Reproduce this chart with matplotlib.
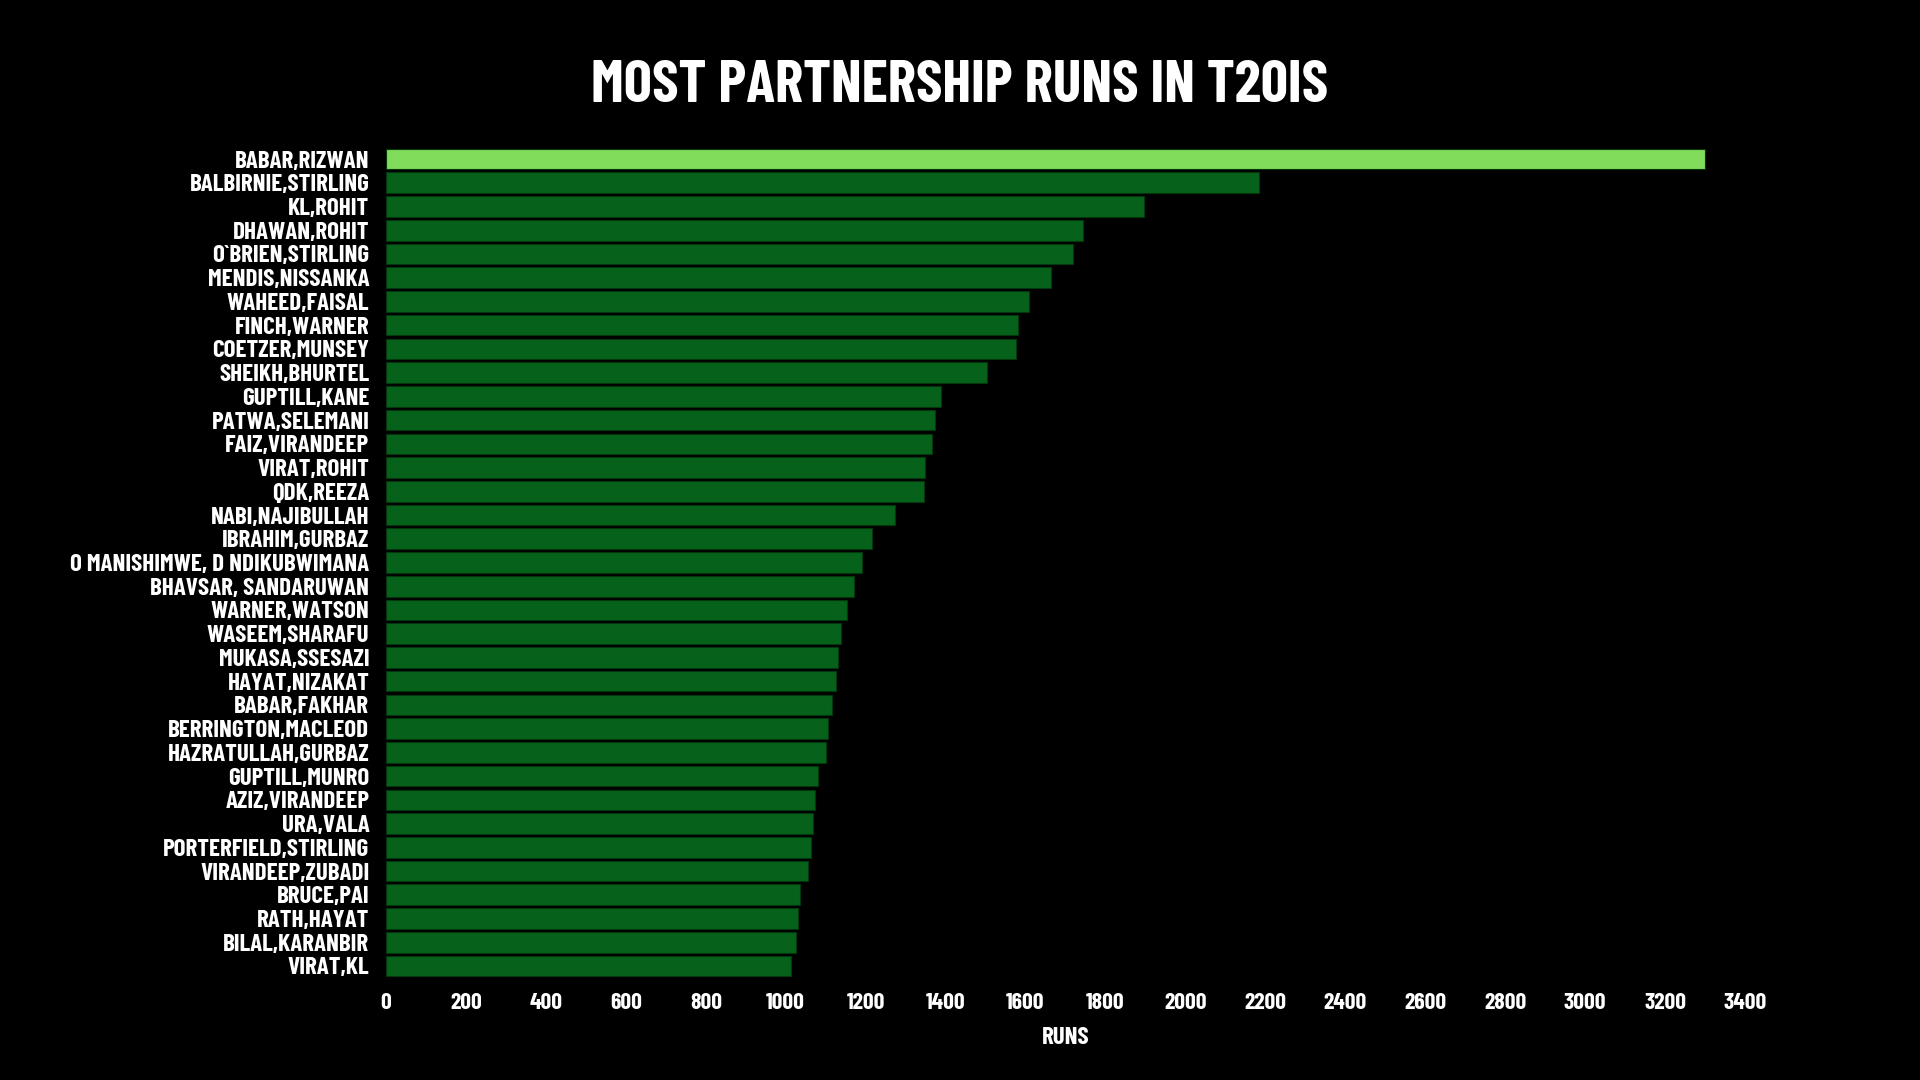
import matplotlib
matplotlib.use("Agg")
import matplotlib.pyplot as plt

pairs = ["BABAR,RIZWAN", "BALBIRNIE,STIRLING", "KL,ROHIT", "DHAWAN,ROHIT", "O`BRIEN,STIRLING",
         "MENDIS,NISSANKA", "WAHEED,FAISAL", "FINCH,WARNER", "COETZER,MUNSEY", "SHEIKH,BHURTEL",
         "GUPTILL,KANE", "PATWA,SELEMANI", "FAIZ,VIRANDEEP", "VIRAT,ROHIT", "QDK,REEZA",
         "NABI,NAJIBULLAH", "IBRAHIM,GURBAZ", "O MANISHIMWE, D NDIKUBWIMANA", "BHAVSAR, SANDARUWAN",
         "WARNER,WATSON", "WASEEM,SHARAFU", "MUKASA,SSESAZI", "HAYAT,NIZAKAT", "BABAR,FAKHAR",
         "BERRINGTON,MACLEOD", "HAZRATULLAH,GURBAZ", "GUPTILL,MUNRO", "AZIZ,VIRANDEEP", "URA,VALA",
         "PORTERFIELD,STIRLING", "VIRANDEEP,ZUBADI", "BRUCE,PAI", "RATH,HAYAT", "BILAL,KARANBIR",
         "VIRAT,KL"]
runs = [3299, 2183, 1896, 1743, 1719, 1663, 1609, 1582, 1575, 1503, 1388, 1374, 1365, 1348, 1347,
        1274, 1217, 1190, 1172, 1153, 1138, 1131, 1125, 1115, 1106, 1101, 1082, 1074, 1069, 1064,
        1056, 1035, 1030, 1026, 1014]
xticks = list(range(0, 3401, 200))

plt.rcParams["font.family"] = ["Barlow Condensed", "Bebas Neue", "DejaVu Sans"]
W = "bold"

fig = plt.figure(figsize=(19.2, 10.8), dpi=100, facecolor="black")
ax = fig.add_axes([386/1920, 1-980.2/1080, (1745-386)/1920, (980.2-144.8)/1080])
ax.set_facecolor("black")

colors = ["#80DC5A"] + ["#06621A"] * (len(runs) - 1)
ypos = list(range(len(pairs)))
ax.barh(ypos, runs, height=0.87, color=colors, edgecolor="#03380F", linewidth=0.8)
ax.set_ylim(len(pairs) - 1 + 0.6, -0.6)
ax.set_xlim(0, 3400)
ax.set_yticks(ypos)
ax.set_yticklabels(pairs, fontsize=18, fontweight=W, color="white")
ax.set_xticks(xticks)
ax.set_xticklabels([str(t) for t in xticks], fontsize=17, fontweight=W, color="white")
ax.tick_params(axis="y", length=0, pad=12)
ax.tick_params(axis="x", length=0, pad=9)
for s in ax.spines.values():
    s.set_visible(False)
ax.set_xlabel("RUNS", fontsize=18, fontweight=W, color="white", labelpad=10)

fig.text(0.5, 1-86/1080, "MOST PARTNERSHIP RUNS IN T20IS", ha="center", va="center",
         fontsize=43, fontweight=W, color="white")

fig.savefig("out.png", dpi=100, facecolor="black")
